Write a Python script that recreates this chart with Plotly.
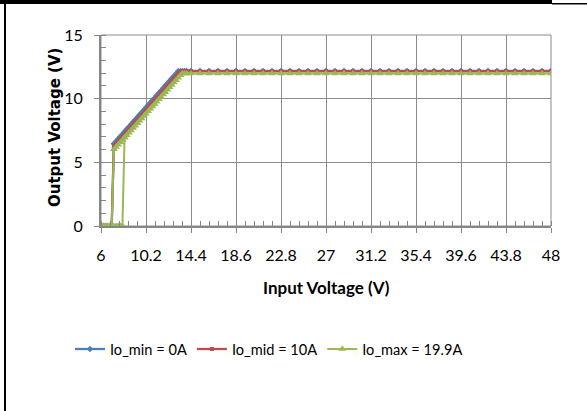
import plotly.graph_objects as go

# ---------------- data ----------------
vin = [6.0, 6.2, 6.4, 6.6, 6.8, 7.0, 7.2, 7.4, 7.6, 7.8, 8.0, 8.2, 8.4, 8.6, 8.8,
       9.0, 9.2, 9.4, 9.6, 9.8, 10.0, 10.2, 10.4, 10.6, 10.8, 11.0, 11.2, 11.4,
       11.6, 11.8, 12.0, 12.2, 12.4, 12.6, 12.8, 13.0, 13.2, 13.4, 13.6, 13.8,
       14.0, 14.4, 15.24, 16.08, 16.92, 17.76, 18.6, 19.44, 20.28, 21.12, 21.96,
       22.8, 23.64, 24.48, 25.32, 26.16, 27.0, 27.84, 28.68, 29.52, 30.36, 31.2,
       32.04, 32.88, 33.72, 34.56, 35.4, 36.24, 37.08, 37.92, 38.76, 39.6, 40.44,
       41.28, 42.12, 42.96, 43.8, 44.64, 45.48, 46.32, 47.16, 48.0]

vout_min = [0, 0, 0, 0, 0, 0, 6.45, 6.64, 6.83, 7.02, 7.21, 7.40, 7.59, 7.78, 7.97,
            8.16, 8.35, 8.54, 8.73, 8.92, 9.11, 9.30, 9.49, 9.68, 9.87, 10.06,
            10.25, 10.44, 10.63, 10.82, 11.01, 11.20, 11.39, 11.58, 11.77, 11.96,
            12.15, 12.18, 12.18, 12.18, 12.18, 12.18, 12.18, 12.18, 12.18, 12.18,
            12.18, 12.18, 12.18, 12.18, 12.18, 12.18, 12.18, 12.18, 12.18, 12.18,
            12.18, 12.18, 12.18, 12.18, 12.18, 12.18, 12.18, 12.18, 12.18, 12.18,
            12.18, 12.18, 12.18, 12.18, 12.18, 12.18, 12.18, 12.18, 12.18, 12.18,
            12.18, 12.18, 12.18, 12.18, 12.18, 12.18]

vout_mid = [0, 0, 0, 0, 0, 0, 6.25, 6.44, 6.63, 6.82, 7.01, 7.20, 7.39, 7.58, 7.77,
            7.96, 8.15, 8.34, 8.53, 8.72, 8.91, 9.10, 9.29, 9.48, 9.67, 9.86,
            10.05, 10.24, 10.43, 10.62, 10.81, 11.00, 11.19, 11.38, 11.57, 11.76,
            11.95, 12.12, 12.15, 12.15, 12.15, 12.15, 12.15, 12.15, 12.15, 12.15,
            12.15, 12.15, 12.15, 12.15, 12.15, 12.15, 12.15, 12.15, 12.15, 12.15,
            12.15, 12.15, 12.15, 12.15, 12.15, 12.15, 12.15, 12.15, 12.15, 12.15,
            12.15, 12.15, 12.15, 12.15, 12.15, 12.15, 12.15, 12.15, 12.15, 12.15,
            12.15, 12.15, 12.15, 12.15, 12.15, 12.15]

vout_max = [0, 0, 0, 0, 0, 0, 0, 0, 0, 0, 0, 6.95, 7.13, 7.32, 7.50,
            7.69, 7.88, 8.07, 8.26, 8.44, 8.63, 8.82, 9.01, 9.20, 9.38, 9.57,
            9.76, 9.95, 10.14, 10.32, 10.51, 10.70, 10.89, 11.08, 11.26, 11.45,
            11.64, 11.83, 11.97, 11.97, 11.97, 11.97, 11.97, 11.97, 11.97, 11.97,
            11.97, 11.97, 11.97, 11.97, 11.97, 11.97, 11.97, 11.97, 11.97, 11.97,
            11.97, 11.97, 11.97, 11.97, 11.97, 11.97, 11.97, 11.97, 11.97, 11.97,
            11.97, 11.97, 11.97, 11.97, 11.97, 11.97, 11.97, 11.97, 11.97, 11.97,
            11.97, 11.97, 11.97, 11.97, 11.97, 11.97]

# falling sweep of Io_max (turn-off point lower than turn-on point)
vin_max_down = [6.0, 6.2, 6.4, 6.6, 6.8, 7.0, 7.2, 7.4, 7.6, 7.8, 8.0, 8.2]
vout_max_down = [0, 0, 0, 0, 0, 0, 6.02, 6.20, 6.39, 6.57, 6.76, 6.95]

x_tick_vals = [6, 10.2, 14.4, 18.6, 22.8, 27, 31.2, 35.4, 39.6, 43.8, 48]
x_tick_text = ["6", "10.2", "14.4", "18.6", "22.8", "27", "31.2", "35.4",
               "39.6", "43.8", "48"]
y_tick_vals = [0, 5, 10, 15]

names = ["Io_min = 0A", "Io_mid = 10A", "Io_max = 19.9A"]
colors = ["#4A7EBB", "#BE4B48", "#98B954"]
x_title = "Input Voltage (V)"
y_title = "Output Voltage (V)"

FONT = "Lato, 'Liberation Sans', sans-serif"

fig = go.Figure()
fig.add_trace(go.Scatter(x=vin, y=vout_min, mode="lines+markers", name=names[0],
                         legendrank=1,
                         line=dict(color=colors[0], width=2.25),
                         marker=dict(symbol="diamond", size=5, color=colors[0])))
fig.add_trace(go.Scatter(x=vin, y=vout_mid, mode="lines+markers", name=names[1],
                         legendrank=2,
                         line=dict(color=colors[1], width=2.25),
                         marker=dict(symbol="square", size=4, color=colors[1])))
fig.add_trace(go.Scatter(x=vin_max_down, y=vout_max_down, mode="lines+markers",
                         name=names[2], legendgroup="max", showlegend=False,
                         line=dict(color=colors[2], width=2),
                         marker=dict(symbol="triangle-up", size=7, color=colors[2])))
fig.add_trace(go.Scatter(x=vin, y=vout_max, mode="lines+markers", name=names[2],
                         legendgroup="max", legendrank=3,
                         line=dict(color=colors[2], width=2),
                         marker=dict(symbol="triangle-up", size=7, color=colors[2])))

W, H = 587, 411
ML, MR, MT, MB = 101, 36, 35, 185
PW, PH = W - ML - MR, H - MT - MB


def px(xp):
    return (xp - ML) / PW


def py(yp):
    return (H - MB - yp) / PH


shapes = [
    dict(type="rect", xref="paper", yref="paper", x0=px(0), x1=px(552),
         y0=py(4), y1=py(0), fillcolor="black", line=dict(width=0), layer="above"),
    dict(type="rect", xref="paper", yref="paper", x0=px(552), x1=px(587),
         y0=py(4.5), y1=py(3), fillcolor="black", line=dict(width=0), layer="above"),
    dict(type="rect", xref="paper", yref="paper", x0=px(4), x1=px(6),
         y0=py(411), y1=py(4), fillcolor="black", line=dict(width=0), layer="above"),
    dict(type="rect", xref="paper", yref="paper", x0=0, x1=1, y0=0, y1=1,
         line=dict(color="#8C8C8C", width=1), layer="below"),
]

annotations = [
    dict(text="<b>" + x_title + "</b>", xref="paper", yref="paper",
         x=px(326), y=py(287), xanchor="center", yanchor="middle",
         showarrow=False, font=dict(size=17)),
    dict(text="<b>" + y_title + "</b>", xref="paper", yref="paper",
         x=px(55), y=py(128), xanchor="center", yanchor="middle",
         textangle=-90, showarrow=False,
         font=dict(size=15, family="'DejaVu Sans', sans-serif")),
]

fig.update_layout(
    width=W, height=H,
    margin=dict(l=ML, r=MR, t=MT, b=MB, pad=0),
    paper_bgcolor="white", plot_bgcolor="white",
    font=dict(family=FONT, size=16, color="black"),
    showlegend=True,
    legend=dict(orientation="h", x=px(269), xanchor="center", y=py(349),
                yanchor="middle", font=dict(size=14.6), traceorder="normal",
                itemwidth=30, bgcolor="rgba(0,0,0,0)"),
    shapes=shapes,
    annotations=annotations,
    xaxis=dict(range=[6, 48], tickmode="array", tickvals=x_tick_vals,
               ticktext=x_tick_text, showgrid=True, gridcolor="#8C8C8C",
               gridwidth=1, showline=True, linecolor="#868686", linewidth=2,
               ticks="outside", ticklen=5, tickcolor="#868686",
               ticklabelstandoff=9, tickfont=dict(size=16),
               zeroline=False, mirror=False,
               minor=dict(tickmode="linear", tick0=6, dtick=0.84,
                          ticks="inside", ticklen=5, tickcolor="#868686",
                          showgrid=False)),
    yaxis=dict(range=[0, 15], tickmode="array", tickvals=y_tick_vals,
               showgrid=True, gridcolor="#8C8C8C", gridwidth=1,
               showline=True, linecolor="#868686", linewidth=2,
               ticks="outside", ticklen=5, tickcolor="#868686",
               ticklabelstandoff=8, tickfont=dict(size=16),
               zeroline=False,
               minor=dict(tickmode="linear", tick0=0, dtick=1,
                          ticks="inside", ticklen=5, tickcolor="#868686",
                          showgrid=False)),
)

fig.write_html("out.html", config={"displayModeBar": False},
               post_script="document.body.style.margin='0';")
